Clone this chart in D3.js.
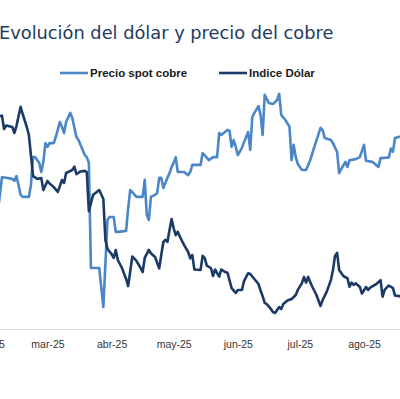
<!DOCTYPE html>
<html>
<head>
<meta charset="utf-8">
<script src="https://cdn.jsdelivr.net/npm/d3@7"></script>
<style>
  body { margin: 0; background: #fff; }
  svg { display: block; }
</style>
</head>
<body>
<div id="chart"></div>
<script>
// precio spot cobre (cUS$/lb)
var cobre = [
  ["2025-02-18",417.4],["2025-02-20",427.6],["2025-02-22",427.4],["2025-02-25",427.1],
  ["2025-02-26",426.5],["2025-02-27",427.9],["2025-02-28",425.3],["2025-03-01",422.4],
  ["2025-03-02",421.8],["2025-03-05",421.8],["2025-03-06",425.3],["2025-03-07",433.5],
  ["2025-03-08",433.5],["2025-03-10",431.8],["2025-03-11",429.1],["2025-03-12",432.1],
  ["2025-03-13",437.6],["2025-03-14",436.5],["2025-03-15",437.6],["2025-03-17",437.6],
  ["2025-03-18",439.4],["2025-03-20",443.8],["2025-03-21",442.4],["2025-03-22",440.6],
  ["2025-03-23",443.8],["2025-03-25",446.5],["2025-03-26",445.0],["2025-03-28",439.4],
  ["2025-03-29",438.5],["2025-03-31",435.6],["2025-04-01",434.1],["2025-04-02",433.5],
  ["2025-04-03",431.8],["2025-04-04",400.9],["2025-04-08",400.9],["2025-04-10",389.4],
  ["2025-04-12",415.0],["2025-04-13",415.9],["2025-04-15",415.9],["2025-04-16",411.5],
  ["2025-04-17",411.5],["2025-04-21",411.8],["2025-04-22",418.5],["2025-04-23",423.8],
  ["2025-04-24",423.2],["2025-04-26",421.8],["2025-04-29",421.8],["2025-04-30",426.8],
  ["2025-05-01",416.5],["2025-05-02",415.0],["2025-05-03",421.8],["2025-05-05",422.4],
  ["2025-05-06",422.9],["2025-05-07",427.4],["2025-05-08",427.4],["2025-05-09",424.4],
  ["2025-05-11",427.4],["2025-05-12",428.8],["2025-05-13",430.6],["2025-05-14",431.8],
  ["2025-05-15",433.5],["2025-05-16",429.1],["2025-05-19",429.1],["2025-05-21",428.2],
  ["2025-05-22",429.1],["2025-05-23",431.2],["2025-05-27",431.2],["2025-05-28",434.7],
  ["2025-05-31",432.6],["2025-06-02",433.5],["2025-06-04",433.5],["2025-06-05",440.6],
  ["2025-06-06",440.0],["2025-06-09",441.5],["2025-06-10",441.2],["2025-06-11",436.5],
  ["2025-06-12",438.5],["2025-06-13",436.5],["2025-06-14",434.1],["2025-06-16",436.2],
  ["2025-06-17",437.9],["2025-06-19",440.9],["2025-06-20",435.6],["2025-06-21",445.3],
  ["2025-06-22",446.5],["2025-06-24",448.5],["2025-06-25",445.9],["2025-06-26",440.0],
  ["2025-06-27",451.8],["2025-06-29",449.4],["2025-07-01",449.1],["2025-07-03",450.3],
  ["2025-07-04",452.1],["2025-07-05",445.9],["2025-07-07",444.4],["2025-07-09",442.4],
  ["2025-07-10",432.6],["2025-07-11",437.1],["2025-07-12",433.5],["2025-07-13",431.5],
  ["2025-07-15",429.7],["2025-07-17",429.7],["2025-07-19",432.6],["2025-07-21",436.5],
  ["2025-07-24",442.1],["2025-07-25",441.5],["2025-07-26",439.1],["2025-07-29",438.5],
  ["2025-07-30",437.6],["2025-08-01",435.0],["2025-08-02",428.8],["2025-08-03",430.0],
  ["2025-08-05",432.1],["2025-08-06",430.6],["2025-08-07",432.6],["2025-08-10",432.9],
  ["2025-08-12",433.5],["2025-08-14",437.1],["2025-08-15",432.4],["2025-08-18",432.1],
  ["2025-08-21",430.6],["2025-08-22",433.2],["2025-08-26",433.4],["2025-08-27",436.0],
  ["2025-08-28",435.1],["2025-08-29",439.1],["2025-08-31",439.5],["2025-09-01",439.5]
];

// indice dolar (DXY)
var dolar = [
  ["2025-02-18",107.05],["2025-02-19",107.10],["2025-02-20",107.12],["2025-02-21",106.40],
  ["2025-02-22",106.59],["2025-02-25",106.51],["2025-02-26",106.19],["2025-02-27",106.56],
  ["2025-03-01",107.60],["2025-03-02",107.21],["2025-03-04",106.51],["2025-03-05",106.08],
  ["2025-03-06",105.00],["2025-03-07",103.88],["2025-03-09",103.72],["2025-03-11",103.77],
  ["2025-03-12",103.12],["2025-03-14",103.61],["2025-03-15",103.47],["2025-03-17",103.28],
  ["2025-03-19",103.02],["2025-03-21",103.66],["2025-03-22",103.50],["2025-03-23",104.04],
  ["2025-03-26",104.20],["2025-03-27",104.38],["2025-03-28",103.98],["2025-03-30",104.12],
  ["2025-04-01",104.15],["2025-04-02",104.09],["2025-04-03",101.99],["2025-04-05",102.85],
  ["2025-04-08",103.12],["2025-04-10",102.64],["2025-04-11",100.43],["2025-04-12",99.95],
  ["2025-04-14",99.68],["2025-04-15",99.47],["2025-04-16",99.90],["2025-04-17",99.36],
  ["2025-04-19",98.93],["2025-04-21",98.34],["2025-04-22",97.96],["2025-04-24",99.55],
  ["2025-04-26",99.31],["2025-04-28",98.93],["2025-04-29",98.71],["2025-04-30",99.47],
  ["2025-05-02",99.90],["2025-05-03",99.72],["2025-05-05",99.52],["2025-05-07",98.91],
  ["2025-05-08",99.63],["2025-05-09",100.33],["2025-05-10",100.44],["2025-05-11",100.34],
  ["2025-05-12",100.97],["2025-05-13",101.56],["2025-05-14",101.06],["2025-05-15",100.70],
  ["2025-05-16",100.88],["2025-05-17",100.61],["2025-05-19",100.17],["2025-05-21",99.79],
  ["2025-05-22",99.45],["2025-05-23",99.63],["2025-05-24",98.85],["2025-05-27",98.82],
  ["2025-05-28",99.58],["2025-05-29",99.47],["2025-05-30",99.06],["2025-06-01",98.93],
  ["2025-06-02",98.50],["2025-06-03",98.85],["2025-06-05",98.47],["2025-06-06",98.85],
  ["2025-06-08",98.71],["2025-06-09",98.68],["2025-06-11",97.85],["2025-06-13",97.59],
  ["2025-06-14",97.75],["2025-06-16",97.75],["2025-06-17",98.23],["2025-06-19",98.65],
  ["2025-06-20",98.61],["2025-06-22",98.34],["2025-06-24",98.07],["2025-06-25",97.72],
  ["2025-06-26",97.42],["2025-06-27",97.05],["2025-06-28",96.99],["2025-06-30",96.73],
  ["2025-07-01",96.56],["2025-07-02",96.51],["2025-07-04",96.83],["2025-07-05",96.73],
  ["2025-07-06",96.99],["2025-07-08",97.18],["2025-07-10",97.26],["2025-07-12",97.48],
  ["2025-07-13",97.75],["2025-07-15",98.12],["2025-07-16",98.45],["2025-07-17",98.15],
  ["2025-07-18",98.45],["2025-07-19",98.18],["2025-07-20",97.92],["2025-07-22",97.48],
  ["2025-07-24",96.89],["2025-07-25",97.21],["2025-07-27",97.66],["2025-07-29",98.28],
  ["2025-07-30",98.82],["2025-07-31",99.58],["2025-08-01",99.74],["2025-08-02",98.82],
  ["2025-08-04",98.50],["2025-08-06",98.38],["2025-08-07",97.92],["2025-08-08",98.15],
  ["2025-08-09",98.02],["2025-08-10",98.11],["2025-08-12",97.91],["2025-08-13",97.56],
  ["2025-08-15",97.91],["2025-08-16",97.75],["2025-08-17",97.88],["2025-08-20",98.07],
  ["2025-08-22",98.28],["2025-08-23",97.39],["2025-08-24",97.75],["2025-08-26",97.99],
  ["2025-08-28",97.85],["2025-08-29",97.45],["2025-08-31",97.42],["2025-09-01",97.42]
];

// eje x: etiquetas de meses
var tickDates = ["2025-02-14","2025-03-14","2025-04-14","2025-05-14","2025-06-14","2025-07-14","2025-08-14"];
var tickLabels = ["feb-25","mar-25","abr-25","may-25","jun-25","jul-25","ago-25"];
var seriesNames = ["Precio spot cobre", "Indice Dólar"];

var colCobre = "#4a86c8",
    colDolar = "#1b3a66";

var width = 400, height = 399;
var parseDate = d3.timeParse("%Y-%m-%d");

var svg = d3.select("#chart")
  .append("svg")
    .attr("width", width)
    .attr("height", height);

// title
svg.append("text")
  .attr("x", -1)
  .attr("y", 38.5)
  .attr("font-family", "DejaVu Sans, Verdana, sans-serif")
  .attr("font-size", 17.8)
  .attr("fill", "#233a5e")
  .text("Evolución del dólar y precio del cobre");

// scales (plot area is cropped on left and right)
var x = d3.scaleTime()
  .domain([parseDate("2025-03-01"), parseDate("2025-08-01")])
  .range([20.6, 337.1]);

var yCobre = d3.scaleLinear()
  .domain([380, 470])
  .range([339, 33]);

var yDolar = d3.scaleLinear()
  .domain([96, 108])
  .range([322.5, 99.3]);

// axis line
svg.append("line")
  .attr("x1", 0).attr("x2", width)
  .attr("y1", 329.5).attr("y2", 329.5)
  .attr("stroke", "#d9d9d9")
  .attr("stroke-width", 1);

var xAxis = svg.append("g")
  .attr("transform", "translate(0,329.5)")
  .call(d3.axisBottom(x)
    .tickValues(tickDates.map(parseDate))
    .tickFormat(function(d, i) { return tickLabels[i]; })
    .tickSize(0)
    .tickPadding(11));
xAxis.select(".domain").remove();
xAxis.selectAll("text")
  .attr("font-family", "Liberation Sans, Arial, sans-serif")
  .attr("font-size", 10.5)
  .attr("fill", "#333");

// lines
var lineCobre = d3.line()
  .x(function(d) { return x(parseDate(d[0])) })
  .y(function(d) { return yCobre(d[1]) });

var lineDolar = d3.line()
  .x(function(d) { return x(parseDate(d[0])) })
  .y(function(d) { return yDolar(d[1]) });

svg.append("path")
  .datum(cobre)
  .attr("fill", "none")
  .attr("stroke", colCobre)
  .attr("stroke-width", 2.6)
  .attr("stroke-linejoin", "round")
  .attr("d", lineCobre);

svg.append("path")
  .datum(dolar)
  .attr("fill", "none")
  .attr("stroke", colDolar)
  .attr("stroke-width", 2.6)
  .attr("stroke-linejoin", "round")
  .attr("d", lineDolar);

// legend
var legend = svg.append("g")
  .attr("font-family", "Liberation Sans, Arial, sans-serif")
  .attr("font-size", 11.5)
  .attr("font-weight", "bold")
  .attr("fill", "#1a1a1a");

var legendX = [60, 219];
var legendCols = [colCobre, colDolar];
seriesNames.forEach(function(name, i) {
  legend.append("line")
    .attr("x1", legendX[i]).attr("x2", legendX[i] + 28)
    .attr("y1", 73).attr("y2", 73)
    .attr("stroke", legendCols[i])
    .attr("stroke-width", 2.6);
  legend.append("text")
    .attr("x", legendX[i] + 30)
    .attr("y", 77)
    .text(name);
});
</script>
</body>
</html>
